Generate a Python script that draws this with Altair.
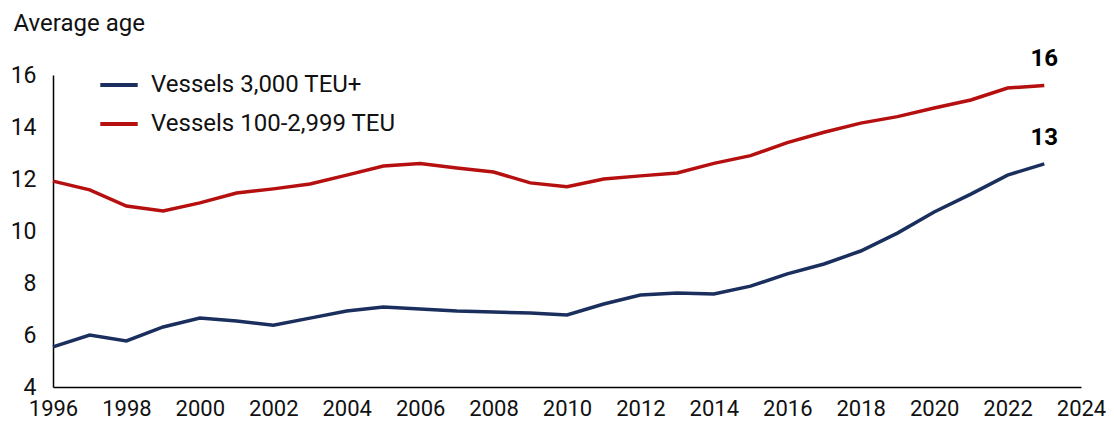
import altair as alt
import pandas as pd

years = list(range(1996, 2024))
large = [5.54, 6.0, 5.77, 6.31, 6.65, 6.54, 6.38, 6.65, 6.92, 7.08,
         7.0, 6.92, 6.88, 6.85, 6.77, 7.19, 7.54, 7.62, 7.58, 7.88,
         8.35, 8.73, 9.23, 9.92, 10.73, 11.42, 12.15, 12.58]
small = [11.92, 11.58, 10.96, 10.77, 11.08, 11.46, 11.62, 11.81, 12.15, 12.5,
         12.6, 12.42, 12.27, 11.85, 11.7, 12.0, 12.12, 12.23, 12.6, 12.9,
         13.4, 13.8, 14.15, 14.4, 14.73, 15.04, 15.5, 15.6]
series_names = ["Vessels 3,000 TEU+", "Vessels 100-2,999 TEU"]
colors = ["#1b2f5e", "#b5100f"]
x_ticks = list(range(1996, 2025, 2))
y_ticks = [4, 6, 8, 10, 12, 14, 16]

rows = []
for y, a, b in zip(years, large, small):
    rows.append({"year": y, "age": a, "series": series_names[0]})
    rows.append({"year": y, "age": b, "series": series_names[1]})
df = pd.DataFrame(rows)

end_df = pd.DataFrame([
    {"year": years[-1], "age": large[-1], "series": series_names[0], "label": str(round(large[-1]))},
    {"year": years[-1], "age": small[-1], "series": series_names[1], "label": str(round(small[-1]))},
])

FONT = "Roboto"

x = alt.X("year:Q", scale=alt.Scale(domain=[1996, 2024], nice=False, zero=False),
          axis=alt.Axis(values=x_ticks, format="d", title=None, grid=False, ticks=False,
                        labelFontSize=22, labelFont=FONT, labelColor="#111111",
                        labelPadding=11, domainColor="#000000", domainWidth=1.5,
                        labelFlush=False, labelOverlap=False))
y = alt.Y("age:Q", scale=alt.Scale(domain=[4, 16], nice=False, zero=False),
          axis=alt.Axis(values=y_ticks, title="Average age", titleAngle=0, titleAlign="left",
                        titleBaseline="alphabetic", titleX=-40, titleY=-45,
                        titleFontSize=24, titleFont=FONT, titleFontWeight="normal",
                        titleColor="#111111",
                        grid=False, ticks=False, labelFontSize=23, labelFont=FONT,
                        labelColor="#111111", labelPadding=17, domainColor="#000000",
                        domainWidth=1.5))
color = alt.Color("series:N", scale=alt.Scale(domain=series_names, range=colors),
                  legend=alt.Legend(title=None, orient="none", legendX=45, legendY=-11,
                                    symbolType="stroke", symbolSize=1400, symbolStrokeWidth=3.8,
                                    labelFontSize=24, labelFont=FONT, labelColor="#111111",
                                    labelOffset=11, rowPadding=6, padding=0, labelLimit=500))

lines = alt.Chart(df).mark_line(strokeWidth=3.5).encode(x=x, y=y, color=color)
labels = alt.Chart(end_df).mark_text(fontSize=24, fontWeight="bold", font=FONT, dy=-26,
                                     color="#000000").encode(x="year:Q", y="age:Q", text="label:N")

chart = (lines + labels).properties(
    width=1028, height=312,
    autosize=alt.AutoSizeParams(type="none"),
    padding={"left": 45, "top": 67, "right": 25, "bottom": 38},
).configure_view(stroke=None)

chart.save("out.html", embed_options={"renderer": "svg", "actions": False})
